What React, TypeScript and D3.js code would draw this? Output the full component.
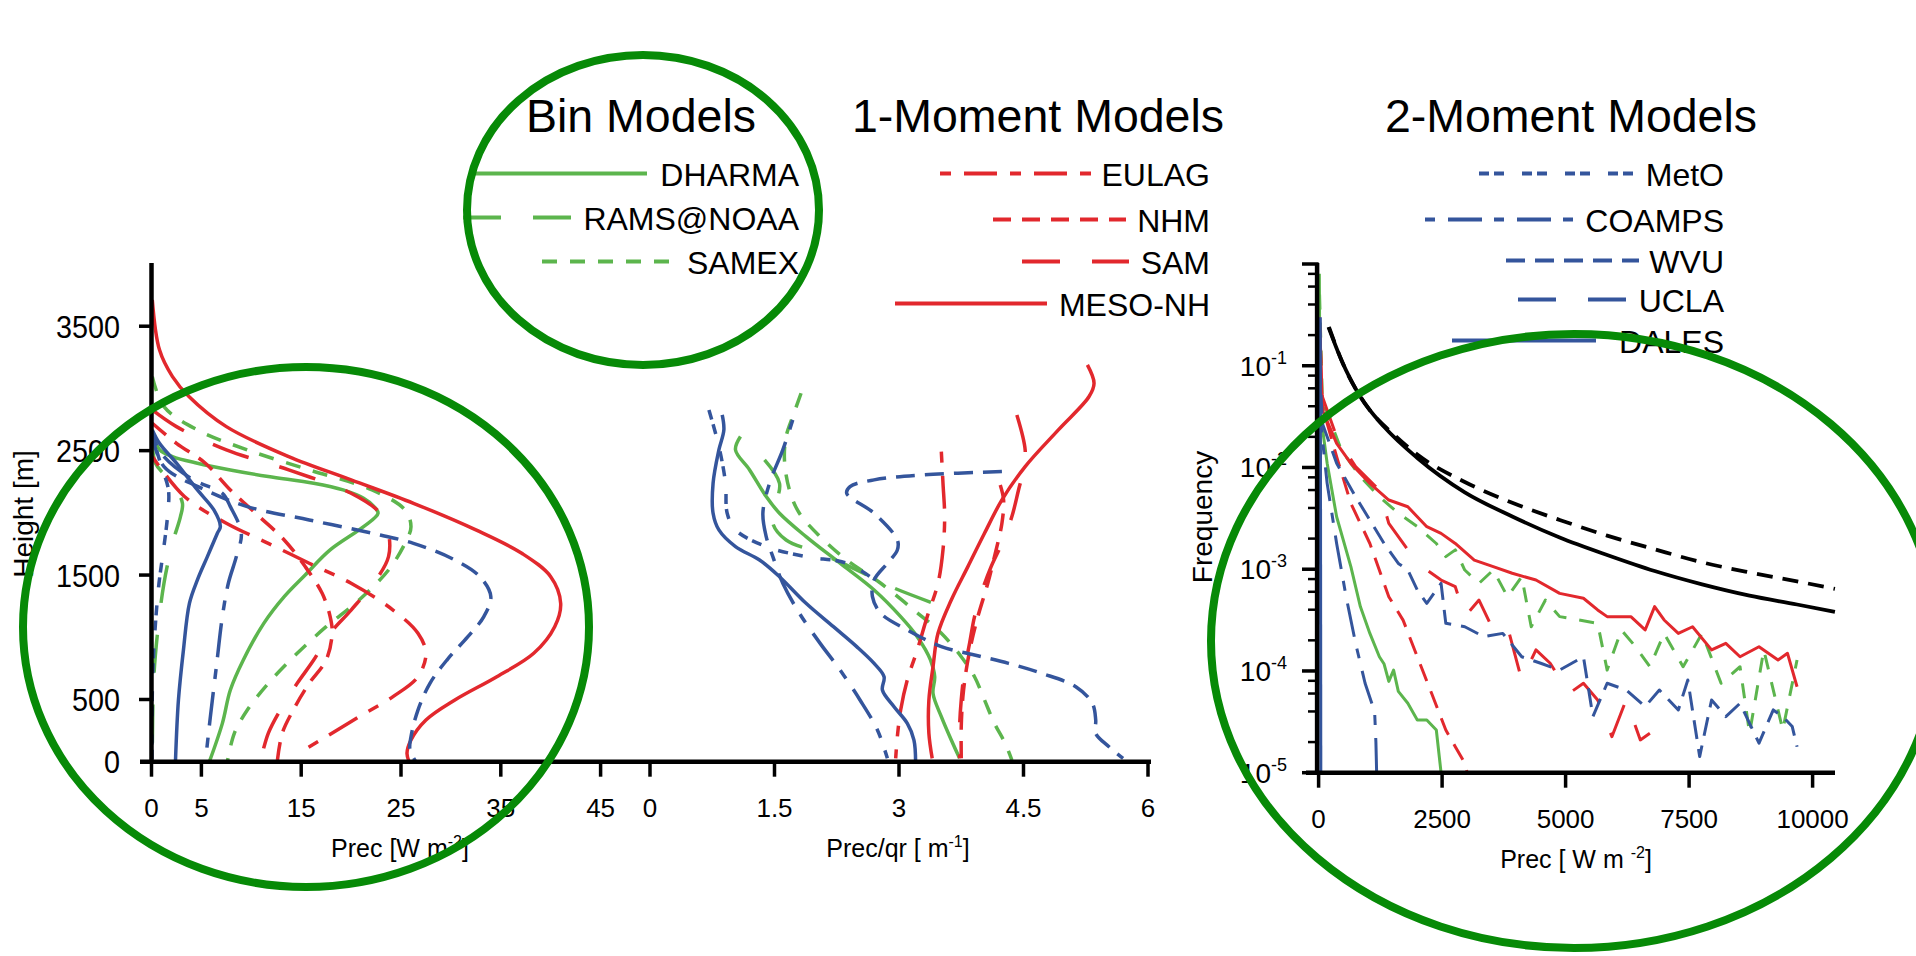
import React from 'react';
import * as d3 from 'd3';

const FONT = "'Liberation Sans', Arial, Helvetica, sans-serif";
const GREEN = '#5cb54d';
const RED = '#e2282d';
const BLUE = '#34559c';
const RING = '#078a07';

// ---------- tick values ----------
const precTicks = [0, 5, 15, 25, 35, 45];
const ratioTicks = [0, 1.5, 3, 4.5, 6];
const heightTicks = [500, 1500, 2500, 3500];
const pdfTicks = [0, 2500, 5000, 7500, 10000];
const freqTicks = [1e-1, 1e-2, 1e-3, 1e-4, 1e-5];
const freqTickLabels = ['-1', '-2', '-3', '-4', '-5'];
const freqMinor = [2, 4, 6, 8];

// ---------- precipitation profiles [Prec W m-2, height m] ----------
const dharmaPrec = [[0.08,2653],[0.83,2506],[2.1,2452],[4.6,2399],[7.9,2345],[11.7,2292],[16.25,2238],[19.2,2184],[21.25,2117],[22.3,2050],[22.7,1997],[21.25,1889],[17.9,1702],[15.4,1501],[13.3,1327],[11.25,1112],[9.2,817],[7.9,576],[7.1,308],[5.8,0]];
const ramsPrec = [[0.1,2613],[0.4,2399],[2.1,2238],[3.1,2077],[2.9,1970],[2.1,1755],[1.25,1434],[0.6,1032],[0.2,630],[0.08,0]];
const samexPrec = [[0.08,3095],[1.25,2854],[4.6,2667],[9.6,2506],[15.8,2345],[22.1,2184],[25.4,2023],[26,1889],[25.4,1755],[23.75,1541],[20.8,1300],[17.5,1085],[14.6,871],[11.7,630],[9.6,415],[8.3,228],[7.6,0]];
const eulagPrec = [[0.08,2452],[3.3,2131],[7.5,1916],[11.7,1755],[15.8,1595],[20,1434],[24.2,1219],[26.7,1032],[27.5,871],[26.7,683],[24.2,523],[20.8,362],[17.5,201],[14.7,67]];
const nhmPrec = [[0.08,2720],[2.5,2559],[5.4,2399],[7.9,2184],[10.8,1970],[13.3,1782],[15.4,1568],[17.1,1353],[17.9,1166],[18.1,1032],[17.5,817],[15.8,630],[14.2,415],[13.1,228],[12.6,0]];
const samPrec = [[0.08,2827],[2.5,2693],[7.5,2506],[13.75,2345],[20,2157],[22.9,1997],[23.75,1836],[23.75,1648],[22.5,1461],[20,1219],[17.9,1032],[16.25,817],[14.6,630],[12.9,415],[11.7,228],[10.9,0]];
const mesoPrec = [[0.08,3712],[0.8,3310],[2.1,3095],[3.75,2935],[7.5,2693],[13.75,2452],[20,2265],[26.25,2077],[32.5,1863],[37.1,1675],[40,1487],[41,1273],[40.4,1085],[38.3,871],[34.6,683],[30.4,496],[27.5,335],[26,174],[25.6,67],[25.8,0]];
const metoPrec = [[0.08,2613],[1.0,2372],[1.7,2184],[1.6,1970],[1.2,1702],[0.75,1434],[0.33,1032],[0.1,630],[0.05,0]];
const coampsPrec = [[0.08,2613],[1.25,2452],[4.2,2265],[7.1,2157],[7.9,2050],[9,1836],[8.5,1648],[7.7,1434],[7.1,1166],[6.5,764],[5.9,362],[5.4,0]];
const wvuPrec = [[0.08,2613],[1.25,2372],[5.4,2184],[9.6,2050],[15.8,1943],[22.1,1836],[26.25,1755],[30.4,1621],[32.9,1487],[34,1327],[33.3,1166],[31.7,1005],[29.6,817],[27.9,630],[26.7,415],[26,201],[25.9,94],[26.5,0]];
const dalesPrec = [[0.08,2667],[0.8,2559],[2.5,2399],[4.6,2184],[6.25,2023],[6.9,1889],[6.6,1836],[5.6,1648],[4.6,1461],[3.8,1273],[3.2,898],[2.7,496],[2.4,0]];

// ---------- Prec/qr profiles [m-1, height m] ----------
const dharmaRatio = [[1.09,2613],[1.03,2506],[1.20,2345],[1.40,2131],[1.56,1997],[1.88,1809],[2.29,1595],[2.70,1380],[3.02,1166],[3.22,1005],[3.38,817],[3.43,683],[3.41,549],[3.51,362],[3.63,174],[3.73,27]];
const ramsRatio = [[1.38,2425],[1.56,2238],[1.52,2077],[1.48,1916],[1.64,1782],[2.05,1675],[2.49,1541],[2.90,1407],[3.47,1260]];
const samexRatio = [[1.82,2961],[1.72,2774],[1.64,2613],[1.62,2425],[1.68,2184],[1.80,1997],[2.05,1809],[2.37,1621],[2.78,1434],[3.18,1219],[3.51,1032],[3.75,844],[3.91,683],[4.03,496],[4.15,308],[4.28,147],[4.36,13]];
const eulagRatio = [[3.51,2492],[3.53,2238],[3.55,1970],[3.53,1702],[3.47,1434],[3.34,1166],[3.22,898],[3.10,657],[3.02,415],[2.98,201],[2.96,27]];
const nhmRatio = [[4.22,2224],[4.26,2104],[4.24,1916],[4.15,1648],[4.07,1434],[3.95,1166],[3.87,951],[3.81,737],[3.77,523],[3.75,281],[3.75,27]];
const samRatio = [[4.42,2787],[4.52,2506],[4.50,2345],[4.44,2184],[4.36,1970],[4.24,1755],[4.11,1568],[3.99,1353],[3.91,1166],[3.85,951],[3.79,737],[3.75,496],[3.73,281],[3.73,27]];
const mesoRatio = [[5.27,3189],[5.35,3042],[5.29,2935],[4.92,2667],[4.52,2372],[4.24,2104],[4.03,1836],[3.83,1568],[3.63,1300],[3.47,1032],[3.41,764],[3.36,496],[3.36,228],[3.40,27]];
const metoRatio = [[0.71,2827],[0.83,2533],[0.91,2238],[0.93,1997],[1.03,1863],[1.40,1729],[1.88,1648],[2.37,1595],[2.65,1487]];
const coampsRatio = [[1.72,2747],[1.60,2506],[1.44,2238],[1.36,1997],[1.40,1809],[1.48,1648],[1.60,1434],[1.80,1193],[2.05,951],[2.29,737],[2.53,496],[2.74,255],[2.86,27]];
const wvuRatio = [[4.24,2332],[3.30,2305],[2.70,2265],[2.41,2211],[2.37,2157],[2.70,1997],[2.98,1782],[2.98,1702],[2.86,1595],[2.70,1460],[2.68,1327],[2.78,1193],[3.10,1059],[3.51,925],[3.91,858],[4.32,790],[4.72,710],[5.13,603],[5.33,469],[5.37,335],[5.37,228],[5.53,120],[5.70,27]];
const dalesRatio = [[0.87,2787],[0.89,2667],[0.83,2506],[0.76,2238],[0.76,1997],[0.83,1863],[1.03,1729],[1.32,1621],[1.56,1487],[1.88,1273],[2.21,1085],[2.49,925],[2.70,790],[2.82,683],[2.80,576],[2.94,442],[3.10,308],[3.18,174],[3.20,0]];

// ---------- frequency distributions [Prec W m-2, frequency] ----------
const obsSolid = [[200,0.24],[461,0.114],[845,0.0495],[1326,0.0251],[1998,0.0124],[2959,0.0057],[3920,0.0033],[4880,0.00205],[5841,0.00138],[6802,9.6e-4],[7763,7.1e-4],[8724,5.5e-4],[9685,4.5e-4],[10452,3.8e-4]];
const obsDashed = [[210,0.24],[461,0.114],[1037,0.0366],[1518,0.0212],[1998,0.0134],[2959,0.0072],[3920,0.0045],[4880,0.00305],[5841,0.00214],[6802,0.00157],[7763,0.00117],[8724,9.3e-4],[9685,7.6e-4],[10452,6.4e-4]];
const mesoPdf = [[20,0.3],[77,0.0366],[365,0.01726],[653,0.01096],[1038,0.00698],[1421,0.00479],[1806,0.00411],[2190,0.00262],[2479,0.00225],[2767,0.00179],[3151,0.00123],[3535,0.00106],[3920,9.12e-4],[4400,7.83e-4],[4880,5.79e-4],[5361,5.18e-4],[5649,3.98e-4],[5841,3.42e-4],[6321,3.42e-4],[6610,2.53e-4],[6802,4.29e-4],[6994,3.17e-4],[7282,2.34e-4],[7570,2.72e-4],[7955,1.61e-4],[8243,1.87e-4],[8531,1.38e-4],[8915,1.73e-4],[9300,1.28e-4],[9492,1.49e-4],[9685,7.0e-5]];
const samexPdf = [[20,0.5],[77,0.0457],[461,0.0148],[845,0.00813],[1230,0.00516],[1614,0.00355],[1998,0.00263],[2383,0.00179],[2575,0.00133],[2767,0.00155],[2959,9.82e-4],[3247,7.26e-4],[3535,9.82e-4],[3824,5.37e-4],[4112,8.45e-4],[4304,2.72e-4],[4592,4.98e-4],[4880,3.42e-4],[5265,3.17e-4],[5649,2.94e-4],[5841,1.02e-4],[6129,2.53e-4],[6417,1.73e-4],[6706,1.1e-4],[6994,2.34e-4],[7378,1.1e-4],[7763,2.34e-4],[8147,7.57e-5],[8531,1.1e-4],[8724,2.44e-5],[9012,1.61e-4],[9396,2.63e-5],[9685,1.28e-4]];
const samPdf = [[20,0.25],[77,0.0495],[365,0.02],[749,0.0102],[1230,0.006],[1421,0.00282],[1806,0.00155],[2190,9.82e-4],[2479,7.83e-4],[2767,6.73e-4],[2959,3.42e-4],[3247,4.98e-4],[3535,2.53e-4],[3824,2.72e-4],[4112,8.15e-5],[4400,1.61e-4],[4688,1.19e-4],[5073,6.03e-5],[5361,7.57e-5],[5649,5.19e-5],[5937,2.26e-5],[6225,5.19e-5],[6513,2.1e-5],[6706,2.44e-5]];
const wvuPdf = [[20,0.1],[77,0.0271],[365,0.011],[749,0.00516],[1038,0.00304],[1326,0.00179],[1614,0.00114],[1806,9.82e-4],[1998,6.25e-4],[2190,4.62e-4],[2479,7.26e-4],[2575,2.94e-4],[2959,2.72e-4],[3343,2.17e-4],[3728,2.34e-4],[4112,1.38e-4],[4496,1.19e-4],[4880,1.02e-4],[5361,1.38e-4],[5553,3.56e-5],[5841,7.57e-5],[6225,6.5e-5],[6610,4.46e-5],[6898,6.5e-5],[7282,4.14e-5],[7474,8.15e-5],[7714,1.44e-5],[7955,5.19e-5],[8243,3.56e-5],[8531,4.81e-5],[8915,1.95e-5],[9204,4.14e-5],[9396,3.56e-5],[9588,2.84e-5],[9685,1.8e-5]];
const nhmPdf = [[20,0.2],[77,0.0398],[365,0.01276],[653,0.00444],[1038,0.00179],[1421,5.37e-4],[1710,3.16e-4],[1998,1.38e-4],[2287,6.03e-5],[2575,2.63e-5],[2767,1.8e-5],[2959,1.24e-5],[3007,1e-5]];
const dharmaPdf = [[15,0.8],[29,0.0366],[173,0.011],[365,0.00328],[653,0.00106],[845,4.29e-4],[1038,2.34e-4],[1230,1.38e-4],[1326,1.17e-4],[1421,7.9e-5],[1518,1.02e-4],[1614,6.3e-5],[1806,4.81e-5],[1998,3.3e-5],[2190,3.3e-5],[2383,2.63e-5],[2479,1e-5]];
const coampsPdf = [[15,0.08],[29,0.0316],[173,0.00698],[365,0.00179],[557,5.37e-4],[749,1.87e-4],[941,7.57e-5],[1134,3.98e-5],[1160,2e-5],[1175,1e-5]];
const dalesPdf = [[35,0.3],[45,1e-5]];

// ---------- models ----------
const models = [
  { name: 'DHARMA', color: GREEN, dash: '', prec: dharmaPrec, ratio: dharmaRatio, pdf: dharmaPdf },
  { name: 'RAMS@NOAA', color: GREEN, dash: '38 32', prec: ramsPrec, ratio: ramsRatio, pdf: null },
  { name: 'SAMEX', color: GREEN, dash: '15 13', prec: samexPrec, ratio: samexRatio, pdf: samexPdf },
  { name: 'EULAG', color: RED, dash: '11 13 33 13', prec: eulagPrec, ratio: eulagRatio, pdf: null },
  { name: 'NHM', color: RED, dash: '18 11', prec: nhmPrec, ratio: nhmRatio, pdf: nhmPdf },
  { name: 'SAM', color: RED, dash: '38 32', prec: samPrec, ratio: samRatio, pdf: samPdf },
  { name: 'MESO-NH', color: RED, dash: '', prec: mesoPrec, ratio: mesoRatio, pdf: mesoPdf },
  { name: 'MetO', color: BLUE, dash: '10 5 10 18', prec: metoPrec, ratio: metoRatio, pdf: null },
  { name: 'COAMPS', color: BLUE, dash: '10 13 34 12', prec: coampsPrec, ratio: coampsRatio, pdf: coampsPdf },
  { name: 'WVU', color: BLUE, dash: '19 10', prec: wvuPrec, ratio: wvuRatio, pdf: wvuPdf },
  { name: 'UCLA', color: BLUE, dash: '38 32', prec: null, ratio: null, pdf: null },
  { name: 'DALES', color: BLUE, dash: '', prec: dalesPrec, ratio: dalesRatio, pdf: dalesPdf },
];

// legend layout (screen geometry)
const legendGroups = [
  { title: 'Bin Models', tx: 641, right: 799, rows: [
    { name: 'DHARMA', x1: 470, x2: 647, y: 186 },
    { name: 'RAMS@NOAA', x1: 463, x2: 571, y: 230 },
    { name: 'SAMEX', x1: 542, x2: 675, y: 274 },
  ]},
  { title: '1-Moment Models', tx: 1038, right: 1210, rows: [
    { name: 'EULAG', x1: 940, x2: 1091, y: 186 },
    { name: 'NHM', x1: 993, x2: 1126, y: 232 },
    { name: 'SAM', x1: 1022, x2: 1129, y: 274 },
    { name: 'MESO-NH', x1: 895, x2: 1047, y: 316 },
  ]},
  { title: '2-Moment Models', tx: 1571, right: 1724, rows: [
    { name: 'MetO', x1: 1479, x2: 1633, y: 186 },
    { name: 'COAMPS', x1: 1425, x2: 1574, y: 232 },
    { name: 'WVU', x1: 1506, x2: 1639, y: 273 },
    { name: 'UCLA', x1: 1518, x2: 1626, y: 312 },
    { name: 'DALES', x1: 1452, x2: 1596, y: 353 },
  ]},
];

export default function App() {
  const yH = d3.scaleLinear().domain([0, 4000]).range([761.7, 264]);
  const xP = d3.scaleLinear().domain([0, 45]).range([151.5, 600.6]);
  const xR = d3.scaleLinear().domain([0, 6]).range([650, 1148]);
  const xF = d3.scaleLinear().domain([0, 10000]).range([1318.6, 1812.6]);
  const yF = d3.scaleLog().domain([1e-5, 1]).range([772.7, 264]);

  const profLine = (xs: any) => d3.line<number[]>().x(d => xs(d[0])).y(d => yH(d[1])).curve(d3.curveCatmullRom.alpha(0.5));
  const precLine = profLine(xP);
  const ratioLine = profLine(xR);
  const pdfLine = d3.line<number[]>().x(d => xF(d[0])).y(d => yF(d[1]));
  const obsLine = d3.line<number[]>().x(d => xF(d[0])).y(d => yF(d[1])).curve(d3.curveMonotoneX);

  const byName: any = {};
  models.forEach(m => { byName[m.name] = m; });

  const axisW = 4.5;
  const lw = 3.5;
  const yLeft = yH(0);
  const yRight = yF(1e-5);
  const minorVals: number[] = [];
  for (let e = -5; e < 0; e++) freqMinor.forEach(k => minorVals.push(k * Math.pow(10, e)));

  return (
    <svg width={1916} height={956} style={{ position: 'absolute', left: 0, top: 0, background: '#fff' }} fontFamily={FONT}>
      <rect x={0} y={0} width={1916} height={956} fill="#fff" />
      {/* ---------- curves: left and middle panels ---------- */}
      <g fill="none" strokeWidth={lw} strokeLinejoin="round">
        {models.filter(m => m.prec).map(m => (
          <path key={'p' + m.name} d={precLine(m.prec as any) || ''} stroke={m.color} strokeDasharray={m.dash || undefined} />
        ))}
        {models.filter(m => m.ratio).map(m => (
          <path key={'r' + m.name} d={ratioLine(m.ratio as any) || ''} stroke={m.color} strokeDasharray={m.dash || undefined} />
        ))}
      </g>
      {/* ---------- curves: right panel ---------- */}
      <g fill="none" strokeWidth={3} strokeLinejoin="round">
        <path d={obsLine(obsSolid as any) || ''} stroke="#000" strokeWidth={3.8} />
        <path d={obsLine(obsDashed as any) || ''} stroke="#000" strokeWidth={3.8} strokeDasharray="16 10" />
        {models.filter(m => m.pdf).map(m => (
          <path key={'f' + m.name} d={pdfLine(m.pdf as any) || ''} stroke={m.color} strokeDasharray={m.dash || undefined} />
        ))}
      </g>

      {/* ---------- left axes ---------- */}
      <g stroke="#000" strokeWidth={axisW} fill="none">
        <line x1={xP(0)} x2={xP(0)} y1={yH(4000) - 1} y2={yLeft} />
        <line x1={140} x2={1151} y1={yLeft} y2={yLeft} />
        {heightTicks.map(t => <line key={'ht' + t} x1={139} x2={xP(0)} y1={yH(t)} y2={yH(t)} strokeWidth={3.5} />)}
        {precTicks.map(t => <line key={'pt' + t} x1={xP(t)} x2={xP(t)} y1={yLeft} y2={yLeft + 15} strokeWidth={3.5} />)}
        {ratioTicks.map(t => <line key={'rt' + t} x1={xR(t)} x2={xR(t)} y1={yLeft} y2={yLeft + 15} strokeWidth={3.5} />)}
      </g>
      <g fontSize={32} textAnchor="end" fill="#000">
        {[0, ...heightTicks].map(t => (
          <text key={'hl' + t} transform={`translate(120,${yH(t) + 11.5}) scale(0.9,1)`}>{t}</text>
        ))}
      </g>
      <g fontSize={26} textAnchor="middle" fill="#000">
        {precTicks.map(t => <text key={'pl' + t} x={xP(t)} y={yLeft + 55}>{t}</text>)}
        {ratioTicks.map(t => <text key={'rl' + t} x={xR(t)} y={yLeft + 55}>{t}</text>)}
      </g>
      <text x={400} y={857} fontSize={25} textAnchor="middle">Prec [W m<tspan dy={-10} fontSize={16}>-2</tspan><tspan dy={10}>]</tspan></text>
      <text x={898} y={857} fontSize={25} textAnchor="middle">Prec/qr [ m<tspan dy={-10} fontSize={16}>-1</tspan><tspan dy={10}>]</tspan></text>
      <text transform="translate(33,514) rotate(-90)" fontSize={28} textAnchor="middle">Height [m]</text>

      {/* ---------- right axes ---------- */}
      <g stroke="#000" fill="none">
        <line x1={xF(0) - 1.5} x2={xF(0) - 1.5} y1={yF(1) - 1} y2={yRight} strokeWidth={axisW} />
        <line x1={1306} x2={1835} y1={yRight} y2={yRight} strokeWidth={axisW} />
        {[1, ...freqTicks].map(t => <line key={'ft' + t} x1={1302} x2={xF(0)} y1={yF(t)} y2={yF(t)} strokeWidth={3.5} />)}
        {minorVals.map((t, i) => <line key={'fm' + i} x1={1308} x2={xF(0)} y1={yF(t)} y2={yF(t)} strokeWidth={2.5} />)}
        {pdfTicks.map(t => <line key={'xt' + t} x1={xF(t)} x2={xF(t)} y1={yRight} y2={yRight + 15} strokeWidth={3.5} />)}
      </g>
      <g fontSize={28} textAnchor="end" fill="#000">
        {freqTicks.map((t, i) => (
          <text key={'fl' + t} x={1287} y={yF(t) + 10}>10<tspan dy={-12} fontSize={18}>{freqTickLabels[i]}</tspan></text>
        ))}
      </g>
      <g fontSize={26} textAnchor="middle" fill="#000">
        {pdfTicks.map(t => <text key={'xl' + t} x={xF(t)} y={yRight + 55}>{t}</text>)}
      </g>
      <text x={1576} y={868} fontSize={25} textAnchor="middle">Prec [ W m <tspan dy={-10} fontSize={16}>-2</tspan><tspan dy={10}>]</tspan></text>
      <text transform="translate(1212,517) rotate(-90)" fontSize={28} textAnchor="middle">Frequency</text>

      {/* ---------- legends ---------- */}
      {legendGroups.map(g => (
        <g key={g.title}>
          <text x={g.tx} y={132} fontSize={46.5} textAnchor="middle">{g.title}</text>
          {g.rows.map(r => {
            const m = byName[r.name];
            return (
              <g key={r.name}>
                <line x1={r.x1} x2={r.x2} y1={r.y - 12.5} y2={r.y - 12.5} stroke={m.color} strokeWidth={4} strokeDasharray={m.dash || undefined} />
                <text x={g.right} y={r.y} fontSize={32} textAnchor="end">{r.name}</text>
              </g>
            );
          })}
        </g>
      ))}

      {/* ---------- annotation rings ---------- */}
      <g fill="none" stroke={RING} strokeWidth={8}>
        <ellipse cx={643} cy={210} rx={176} ry={155} />
        <ellipse cx={306} cy={627} rx={283} ry={260} />
        <ellipse cx={1574} cy={641} rx={363} ry={307} />
      </g>
    </svg>
  );
}
